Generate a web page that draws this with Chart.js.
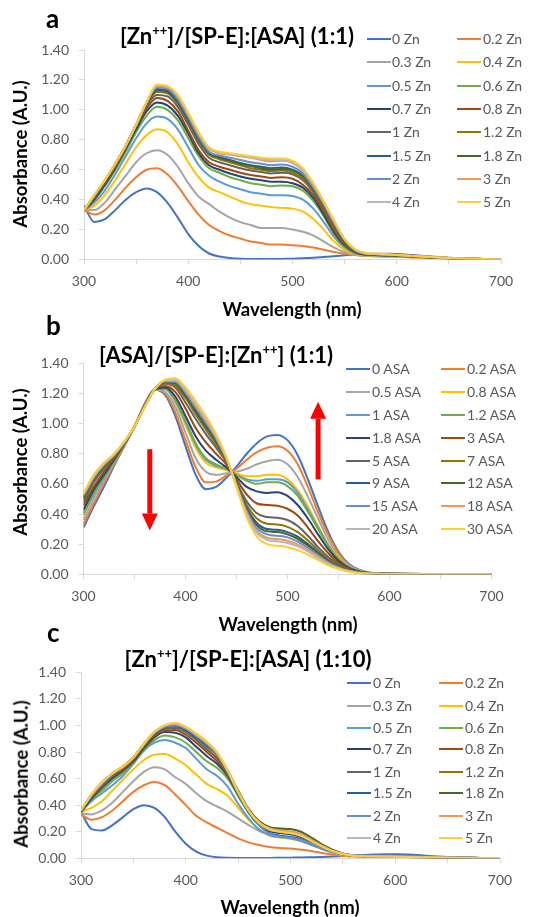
<!DOCTYPE html>
<html>
<head>
<meta charset="utf-8">
<script src="https://cdn.jsdelivr.net/npm/chart.js@4.4.0/dist/chart.umd.min.js"></script>
<style>
body { margin: 0; background: #fff; font-family: Lato, sans-serif; }
#page { position: relative; width: 540px; height: 917px; overflow: hidden; }
canvas { position: absolute; left: 0; }
.letter { position: absolute; font-weight: bold; font-size: 26px; line-height: 1; color: #000; }
.title { position: absolute; font-weight: bold; font-size: 22px; color: #000; white-space: nowrap; transform: translate(-50%, -50%); line-height: 1; }
.title sup { font-size: 13px; vertical-align: 9px; line-height: 0; }
.axt { position: absolute; font-weight: bold; font-size: 18.5px; color: #000; white-space: nowrap; transform: translate(-50%, -50%); line-height: 1; }
.axt.y { transform: translate(-50%, -50%) rotate(-90deg); }
.legline { position: absolute; height: 2px; }
.legtxt { position: absolute; font-size: 14px; color: #595959; white-space: nowrap; line-height: 1; transform: translateY(-50%); }
</style>
</head>
<body>
<div id="page">
  <canvas id="chartA" width="540" height="300" style="top:0px"></canvas>
  <canvas id="chartB" width="540" height="305" style="top:300px"></canvas>
  <canvas id="chartC" width="540" height="312" style="top:605px"></canvas>

  <div class="letter" style="left:46px;top:5px">a</div>
  <div class="title" style="left:237px;top:36px">[Zn<sup>++</sup>]/[SP-E]:[ASA] (1:1)</div>
  <div class="axt y" style="left:20px;top:154px">Absorbance (A.U.)</div>
  <div class="axt" style="left:292px;top:309px">Wavelength (nm)</div>

  <div class="letter" style="left:46px;top:312px">b</div>
  <div class="title" style="left:216px;top:355px">[ASA]/[SP-E]:[Zn<sup>++</sup>] (1:1)</div>
  <div class="axt y" style="left:20px;top:462px">Absorbance (A.U.)</div>
  <div class="axt" style="left:288px;top:624px">Wavelength (nm)</div>

  <div class="letter" style="left:47px;top:619px">c</div>
  <div class="title" style="left:248px;top:659px">[Zn<sup>++</sup>]/[SP-E]:[ASA] (1:10)</div>
  <div class="axt y" style="left:21px;top:774px">Absorbance (A.U.)</div>
  <div class="axt" style="left:290px;top:907px">Wavelength (nm)</div>
</div>
<script>
// wavelength grid (nm) shared by all spectra
var wl = [300, 310, 320, 330, 340, 350, 360, 370, 380, 390, 400, 410, 420, 430, 440, 450, 460, 470, 480, 490,
          500, 510, 520, 530, 540, 550, 560, 570, 580, 590, 600, 650, 700];

var xLabelled = [300, 400, 500, 600, 700];

var zincLabels = ['0 Zn', '0.2 Zn', '0.3 Zn', '0.4 Zn', '0.5 Zn', '0.6 Zn', '0.7 Zn', '0.8 Zn',
                  '1 Zn', '1.2 Zn', '1.5 Zn', '1.8 Zn', '2 Zn', '3 Zn', '4 Zn', '5 Zn'];
var asaLabels = ['0 ASA', '0.2 ASA', '0.5 ASA', '0.8 ASA', '1 ASA', '1.2 ASA', '1.8 ASA', '3 ASA',
                 '5 ASA', '7 ASA', '9 ASA', '12 ASA', '15 ASA', '18 ASA', '20 ASA', '30 ASA'];

var palette = ['#4472C4', '#ED7D31', '#A5A5A5', '#FFC000', '#5B9BD5', '#70AD47', '#264478', '#9E480E',
               '#636363', '#997300', '#255E91', '#43682B', '#698ED0', '#F1975A', '#B7B7B7', '#FFCD33'];

// panel a: [Zn++]/[SP-E]:[ASA] (1:1)
var absA = [
  [0.36,0.25,0.27,0.33,0.40,0.45,0.475,0.45,0.38,0.28,0.17,0.09,0.04,0.02,0.01,0.005,0.003,0.003,0.003,0.004,0.005,0.008,0.012,0.017,0.022,0.028,0.033,0.036,0.038,0.038,0.036,0.012,0.0],
  [0.33,0.30,0.33,0.40,0.48,0.55,0.60,0.61,0.57,0.49,0.39,0.30,0.23,0.19,0.16,0.14,0.12,0.11,0.10,0.10,0.095,0.09,0.08,0.065,0.05,0.038,0.03,0.025,0.022,0.02,0.018,0.006,0.0],
  [0.33,0.33,0.38,0.47,0.56,0.65,0.71,0.73,0.70,0.62,0.51,0.42,0.37,0.32,0.28,0.25,0.23,0.21,0.21,0.21,0.20,0.185,0.16,0.12,0.08,0.05,0.032,0.025,0.022,0.02,0.018,0.006,0.0],
  [0.33,0.36,0.43,0.53,0.64,0.75,0.83,0.87,0.85,0.77,0.65,0.55,0.48,0.45,0.42,0.39,0.37,0.36,0.35,0.345,0.34,0.32,0.27,0.20,0.12,0.065,0.035,0.028,0.025,0.022,0.02,0.007,0.0],
  [0.33,0.38,0.46,0.57,0.69,0.81,0.91,0.955,0.94,0.87,0.75,0.63,0.56,0.52,0.49,0.47,0.45,0.44,0.43,0.43,0.425,0.40,0.34,0.25,0.15,0.08,0.04,0.03,0.027,0.024,0.022,0.008,0.0],
  [0.33,0.40,0.49,0.60,0.72,0.85,0.96,1.02,1.00,0.93,0.81,0.69,0.61,0.58,0.55,0.53,0.51,0.50,0.49,0.495,0.49,0.46,0.39,0.29,0.17,0.09,0.045,0.032,0.028,0.026,0.024,0.008,0.0],
  [0.33,0.40,0.50,0.61,0.74,0.87,0.99,1.05,1.03,0.96,0.84,0.71,0.63,0.60,0.575,0.555,0.54,0.53,0.52,0.52,0.51,0.48,0.41,0.30,0.18,0.095,0.048,0.033,0.03,0.027,0.025,0.009,0.0],
  [0.33,0.41,0.51,0.62,0.75,0.89,1.01,1.08,1.06,0.99,0.86,0.73,0.65,0.62,0.60,0.58,0.565,0.555,0.545,0.55,0.54,0.50,0.43,0.32,0.19,0.10,0.05,0.034,0.031,0.028,0.026,0.009,0.0],
  [0.33,0.42,0.52,0.63,0.76,0.90,1.03,1.10,1.09,1.02,0.90,0.77,0.68,0.65,0.63,0.61,0.595,0.585,0.575,0.58,0.57,0.53,0.45,0.34,0.21,0.11,0.055,0.036,0.033,0.03,0.028,0.01,0.0],
  [0.33,0.42,0.52,0.63,0.76,0.90,1.04,1.12,1.11,1.04,0.92,0.79,0.70,0.67,0.65,0.63,0.61,0.60,0.59,0.595,0.58,0.54,0.46,0.35,0.22,0.12,0.058,0.037,0.034,0.031,0.029,0.01,0.0],
  [0.33,0.42,0.52,0.64,0.76,0.90,1.04,1.13,1.12,1.05,0.93,0.80,0.71,0.685,0.665,0.645,0.63,0.62,0.61,0.615,0.60,0.56,0.47,0.36,0.23,0.12,0.06,0.038,0.035,0.032,0.03,0.01,0.0],
  [0.33,0.42,0.53,0.64,0.76,0.90,1.04,1.14,1.13,1.06,0.94,0.81,0.71,0.68,0.66,0.64,0.625,0.61,0.60,0.605,0.595,0.555,0.47,0.36,0.23,0.12,0.06,0.038,0.035,0.032,0.03,0.01,0.0],
  [0.33,0.43,0.53,0.64,0.76,0.90,1.05,1.15,1.14,1.07,0.95,0.82,0.72,0.695,0.68,0.665,0.65,0.64,0.63,0.635,0.62,0.575,0.48,0.37,0.24,0.13,0.062,0.04,0.036,0.033,0.03,0.01,0.0],
  [0.33,0.43,0.53,0.64,0.76,0.90,1.05,1.16,1.15,1.09,0.97,0.84,0.74,0.71,0.70,0.69,0.68,0.665,0.655,0.66,0.645,0.595,0.50,0.38,0.25,0.135,0.065,0.04,0.036,0.033,0.03,0.01,0.0],
  [0.33,0.43,0.53,0.64,0.76,0.90,1.05,1.165,1.155,1.095,0.975,0.845,0.745,0.715,0.705,0.695,0.685,0.67,0.665,0.665,0.65,0.60,0.505,0.385,0.255,0.135,0.066,0.042,0.036,0.033,0.03,0.01,0.0],
  [0.33,0.43,0.53,0.64,0.76,0.90,1.05,1.17,1.16,1.10,0.98,0.85,0.75,0.72,0.71,0.70,0.69,0.68,0.675,0.675,0.66,0.61,0.51,0.39,0.26,0.14,0.07,0.045,0.04,0.035,0.03,0.01,0.0]
];

// panel b: [ASA]/[SP-E]:[Zn++] (1:1)
var absB = [
  [0.31,0.45,0.58,0.72,0.85,0.98,1.13,1.225,1.19,1.05,0.85,0.66,0.565,0.58,0.64,0.715,0.80,0.87,0.915,0.925,0.89,0.79,0.63,0.45,0.28,0.15,0.07,0.03,0.012,0.006,0.004,0.002,0.0],
  [0.33,0.47,0.60,0.73,0.85,0.98,1.13,1.225,1.20,1.075,0.89,0.71,0.61,0.615,0.655,0.70,0.76,0.81,0.84,0.85,0.82,0.73,0.58,0.41,0.26,0.14,0.065,0.028,0.011,0.006,0.004,0.002,0.0],
  [0.36,0.50,0.62,0.74,0.86,0.98,1.125,1.226,1.21,1.11,0.94,0.77,0.68,0.66,0.67,0.68,0.70,0.73,0.75,0.76,0.73,0.645,0.515,0.37,0.23,0.12,0.058,0.025,0.01,0.005,0.003,0.002,0.0],
  [0.39,0.53,0.64,0.75,0.86,0.98,1.12,1.227,1.23,1.14,0.99,0.84,0.74,0.71,0.69,0.67,0.65,0.65,0.66,0.66,0.63,0.56,0.45,0.32,0.20,0.11,0.05,0.022,0.009,0.005,0.003,0.002,0.0],
  [0.40,0.53,0.64,0.75,0.86,0.98,1.122,1.227,1.23,1.15,1.01,0.86,0.76,0.72,0.70,0.66,0.63,0.62,0.63,0.63,0.61,0.54,0.43,0.31,0.19,0.10,0.05,0.021,0.009,0.005,0.003,0.002,0.0],
  [0.41,0.54,0.65,0.75,0.863,0.98,1.121,1.227,1.23,1.16,1.02,0.87,0.77,0.73,0.70,0.66,0.62,0.60,0.61,0.61,0.585,0.52,0.415,0.30,0.185,0.10,0.048,0.02,0.009,0.005,0.003,0.002,0.0],
  [0.43,0.56,0.66,0.76,0.866,0.98,1.12,1.228,1.24,1.18,1.05,0.915,0.82,0.76,0.71,0.645,0.58,0.55,0.54,0.545,0.52,0.46,0.37,0.265,0.165,0.09,0.043,0.019,0.008,0.004,0.003,0.0015,0.0],
  [0.46,0.58,0.68,0.77,0.87,0.98,1.117,1.228,1.25,1.21,1.10,0.97,0.875,0.80,0.73,0.63,0.53,0.47,0.46,0.455,0.435,0.39,0.31,0.22,0.14,0.076,0.037,0.016,0.007,0.004,0.003,0.0014,0.0],
  [0.48,0.61,0.70,0.78,0.87,0.98,1.115,1.229,1.265,1.24,1.14,1.03,0.93,0.84,0.745,0.61,0.485,0.405,0.38,0.375,0.36,0.32,0.255,0.18,0.115,0.064,0.031,0.014,0.006,0.004,0.0025,0.0012,0.0],
  [0.50,0.62,0.71,0.785,0.874,0.98,1.114,1.229,1.27,1.25,1.17,1.06,0.96,0.86,0.75,0.605,0.46,0.37,0.335,0.33,0.315,0.28,0.225,0.16,0.10,0.057,0.028,0.012,0.005,0.003,0.002,0.001,0.0],
  [0.51,0.63,0.72,0.79,0.876,0.98,1.113,1.229,1.276,1.265,1.185,1.08,0.98,0.88,0.76,0.60,0.44,0.34,0.30,0.295,0.28,0.25,0.20,0.145,0.09,0.051,0.025,0.011,0.005,0.003,0.002,0.001,0.0],
  [0.51,0.635,0.72,0.79,0.876,0.98,1.112,1.229,1.278,1.27,1.19,1.09,0.99,0.89,0.76,0.60,0.43,0.325,0.285,0.28,0.265,0.235,0.19,0.14,0.086,0.049,0.024,0.011,0.005,0.003,0.002,0.001,0.0],
  [0.52,0.64,0.73,0.79,0.877,0.98,1.112,1.23,1.281,1.278,1.205,1.105,1.005,0.90,0.767,0.59,0.42,0.305,0.265,0.256,0.245,0.217,0.175,0.127,0.08,0.045,0.023,0.01,0.005,0.003,0.002,0.001,0.0],
  [0.53,0.65,0.73,0.795,0.878,0.98,1.111,1.23,1.284,1.285,1.217,1.12,1.02,0.91,0.77,0.59,0.405,0.287,0.243,0.234,0.223,0.198,0.16,0.116,0.073,0.042,0.021,0.009,0.0045,0.003,0.002,0.001,0.0],
  [0.53,0.65,0.73,0.797,0.879,0.98,1.111,1.23,1.286,1.29,1.224,1.13,1.03,0.916,0.774,0.585,0.397,0.275,0.229,0.219,0.208,0.185,0.15,0.109,0.069,0.04,0.02,0.009,0.004,0.003,0.002,0.001,0.0],
  [0.54,0.66,0.74,0.80,0.88,0.98,1.11,1.23,1.29,1.30,1.24,1.15,1.05,0.93,0.78,0.58,0.38,0.25,0.20,0.19,0.18,0.16,0.13,0.095,0.06,0.035,0.018,0.008,0.004,0.003,0.002,0.001,0.0]
];

// panel c: [Zn++]/[SP-E]:[ASA] (1:10)
var absC = [
  [0.35,0.22,0.21,0.25,0.31,0.37,0.40,0.38,0.31,0.20,0.11,0.05,0.02,0.008,0.004,0.003,0.003,0.003,0.003,0.004,0.005,0.006,0.008,0.01,0.013,0.017,0.021,0.025,0.028,0.03,0.03,0.01,0.0],
  [0.33,0.29,0.31,0.36,0.43,0.50,0.55,0.575,0.55,0.48,0.40,0.32,0.27,0.23,0.19,0.15,0.12,0.10,0.085,0.078,0.073,0.065,0.055,0.04,0.028,0.018,0.014,0.012,0.01,0.01,0.01,0.004,0.0],
  [0.34,0.33,0.36,0.42,0.50,0.58,0.65,0.685,0.67,0.61,0.56,0.49,0.43,0.39,0.35,0.30,0.25,0.205,0.18,0.165,0.155,0.14,0.11,0.075,0.045,0.025,0.018,0.015,0.013,0.012,0.012,0.005,0.0],
  [0.35,0.38,0.43,0.51,0.59,0.67,0.74,0.78,0.785,0.75,0.70,0.63,0.56,0.52,0.47,0.38,0.29,0.22,0.17,0.155,0.145,0.13,0.10,0.07,0.045,0.025,0.018,0.015,0.013,0.012,0.012,0.005,0.0],
  [0.35,0.43,0.49,0.55,0.62,0.71,0.81,0.87,0.89,0.87,0.83,0.75,0.67,0.62,0.54,0.41,0.30,0.215,0.175,0.16,0.15,0.13,0.10,0.07,0.045,0.028,0.02,0.016,0.014,0.013,0.012,0.005,0.0],
  [0.35,0.44,0.51,0.58,0.64,0.72,0.82,0.89,0.925,0.91,0.87,0.80,0.73,0.68,0.60,0.47,0.34,0.25,0.21,0.20,0.19,0.17,0.13,0.09,0.055,0.032,0.02,0.016,0.014,0.013,0.012,0.005,0.0],
  [0.35,0.45,0.53,0.60,0.66,0.73,0.83,0.91,0.95,0.945,0.91,0.84,0.77,0.71,0.62,0.48,0.35,0.255,0.205,0.19,0.18,0.16,0.125,0.085,0.052,0.03,0.02,0.016,0.014,0.013,0.012,0.005,0.0],
  [0.36,0.46,0.54,0.61,0.67,0.74,0.84,0.92,0.96,0.965,0.93,0.87,0.80,0.73,0.63,0.49,0.355,0.26,0.22,0.205,0.195,0.175,0.135,0.09,0.055,0.032,0.02,0.016,0.014,0.013,0.012,0.005,0.0],
  [0.36,0.47,0.55,0.62,0.68,0.75,0.85,0.93,0.97,0.98,0.95,0.89,0.82,0.75,0.64,0.49,0.355,0.26,0.215,0.20,0.19,0.17,0.13,0.09,0.055,0.032,0.02,0.016,0.014,0.013,0.012,0.005,0.0],
  [0.36,0.47,0.56,0.63,0.68,0.75,0.85,0.94,0.98,0.99,0.96,0.91,0.84,0.77,0.65,0.50,0.36,0.265,0.225,0.21,0.20,0.18,0.14,0.095,0.058,0.034,0.021,0.017,0.015,0.014,0.013,0.005,0.0],
  [0.36,0.47,0.56,0.63,0.69,0.76,0.86,0.94,0.985,0.995,0.965,0.91,0.85,0.78,0.65,0.49,0.35,0.25,0.19,0.17,0.16,0.145,0.115,0.08,0.05,0.03,0.02,0.017,0.015,0.014,0.013,0.005,0.0],
  [0.36,0.48,0.57,0.64,0.69,0.76,0.86,0.95,0.995,1.005,0.98,0.93,0.87,0.79,0.66,0.51,0.37,0.28,0.235,0.225,0.22,0.20,0.155,0.105,0.065,0.037,0.022,0.017,0.015,0.014,0.013,0.005,0.0],
  [0.36,0.47,0.56,0.63,0.69,0.76,0.86,0.945,0.99,1.00,0.975,0.92,0.86,0.78,0.65,0.49,0.35,0.25,0.185,0.165,0.155,0.14,0.11,0.075,0.048,0.03,0.022,0.02,0.02,0.02,0.018,0.007,0.0],
  [0.36,0.48,0.57,0.64,0.69,0.76,0.86,0.95,1.00,1.01,0.985,0.93,0.87,0.79,0.66,0.50,0.36,0.27,0.225,0.21,0.20,0.18,0.14,0.095,0.058,0.034,0.021,0.017,0.015,0.014,0.013,0.005,0.0],
  [0.36,0.48,0.57,0.64,0.69,0.76,0.86,0.95,1.00,1.015,0.985,0.935,0.875,0.795,0.66,0.50,0.36,0.265,0.215,0.20,0.19,0.17,0.13,0.09,0.055,0.032,0.02,0.016,0.014,0.013,0.012,0.005,0.0],
  [0.36,0.48,0.57,0.64,0.69,0.76,0.86,0.95,1.00,1.02,0.99,0.94,0.88,0.80,0.66,0.50,0.36,0.27,0.22,0.20,0.19,0.17,0.13,0.09,0.055,0.032,0.02,0.016,0.014,0.013,0.012,0.005,0.0]
];

// red arrows in panel b (wavelength, start absorbance, tip absorbance)
var arrowWl = [365, 530];
var arrowFrom = [0.83, 0.63];
var arrowTo = [0.29, 1.145];

var arrowPlugin = {
    id: 'arrows',
    afterDatasetsDraw: function(chart) {
        var ctx = chart.ctx;
        var xs = chart.scales.x;
        var ys = chart.scales.y;
        var head = 17;
        ctx.save();
        ctx.fillStyle = '#FF0000';
        for (var i = 0; i < arrowWl.length; i++) {
            var x = xs.getPixelForValue(arrowWl[i]);
            var y0 = ys.getPixelForValue(arrowFrom[i]);
            var y1 = ys.getPixelForValue(arrowTo[i]);
            var dir = y1 > y0 ? 1 : -1;
            var yb = y1 - dir * head; // base of the head
            ctx.fillRect(x - 2.5, Math.min(y0, yb), 5, Math.abs(yb - y0));
            ctx.beginPath();
            ctx.moveTo(x - 8, yb);
            ctx.lineTo(x + 8, yb);
            ctx.lineTo(x, y1);
            ctx.closePath();
            ctx.fill();
        }
        ctx.restore();
    }
};

function buildChart(id, rows, labels, box, plugins) {
    var datasets = rows.map(function(row, i) {
        return {
            label: labels[i],
            data: row.map(function(v, j) { return {x: wl[j], y: v}; }),
            borderColor: palette[i],
            borderWidth: 2,
            pointRadius: 0,
            fill: false,
            cubicInterpolationMode: 'monotone',
            order: rows.length - i // later series drawn on top
        };
    });

    var tickFont = {family: 'Lato', size: 14};

    return new Chart(document.getElementById(id), {
        type: 'line',
        data: {datasets: datasets},
        options: {
            responsive: false,
            animation: false,
            events: [],
            layout: {
                padding: {left: 0, top: box.top, right: 540 - box.right, bottom: box.h - box.bottom - 30}
            },
            plugins: {legend: {display: false}, tooltip: {enabled: false}},
            scales: {
                x: {
                    type: 'linear',
                    min: 300,
                    max: 700,
                    afterFit: function(s) { s.height = 30; },
                    ticks: {
                        stepSize: 50,
                        autoSkip: false,
                        maxRotation: 0,
                        padding: 9,
                        color: '#595959',
                        font: tickFont,
                        callback: function(v) { return xLabelled.indexOf(v) >= 0 ? String(v) : ''; }
                    },
                    grid: {drawOnChartArea: false, tickLength: 5, color: '#D9D9D9'},
                    border: {color: '#D9D9D9'}
                },
                y: {
                    min: 0,
                    max: 1.4,
                    afterFit: function(s) { s.width = box.left; },
                    ticks: {
                        stepSize: 0.2,
                        padding: 10,
                        color: '#595959',
                        font: tickFont,
                        callback: function(v) { return v.toFixed(2); }
                    },
                    grid: {drawOnChartArea: false, tickLength: 5, color: '#D9D9D9'},
                    border: {color: '#D9D9D9'}
                }
            }
        },
        plugins: plugins || []
    });
}

function buildLegend(labels, pageTop, lineX, textX, rowY) {
    var page = document.getElementById('page');
    for (var i = 0; i < labels.length; i++) {
        var col = i % 2;
        var row = Math.floor(i / 2);
        var y = pageTop + rowY[row];
        var line = document.createElement('div');
        line.className = 'legline';
        line.style.left = lineX[col] + 'px';
        line.style.width = '24px';
        line.style.top = (y - 1) + 'px';
        line.style.background = palette[i];
        page.appendChild(line);
        var txt = document.createElement('div');
        txt.className = 'legtxt';
        txt.style.left = textX[col] + 'px';
        txt.style.top = y + 'px';
        txt.textContent = labels[i];
        page.appendChild(txt);
    }
}

buildChart('chartA', absA, zincLabels, {left: 84, right: 501, top: 50, bottom: 259.5, h: 300});
buildChart('chartB', absB, asaLabels, {left: 83.5, right: 491.5, top: 63.3, bottom: 274.3, h: 305}, [arrowPlugin]);
buildChart('chartC', absC, zincLabels, {left: 81, right: 500, top: 67.3, bottom: 253.3, h: 312});

buildLegend(zincLabels, 0, [367, 457], [392, 483], [39, 62, 85.5, 109, 132, 155.5, 179, 202]);
buildLegend(asaLabels, 300, [346, 441], [372, 467], [69, 91.7, 115, 137.7, 160.7, 183, 206, 229]);
buildLegend(zincLabels, 605, [347, 439], [373, 465], [78.3, 101, 122.7, 144.3, 167, 188.3, 210.7, 233]);
</script>
</body>
</html>
